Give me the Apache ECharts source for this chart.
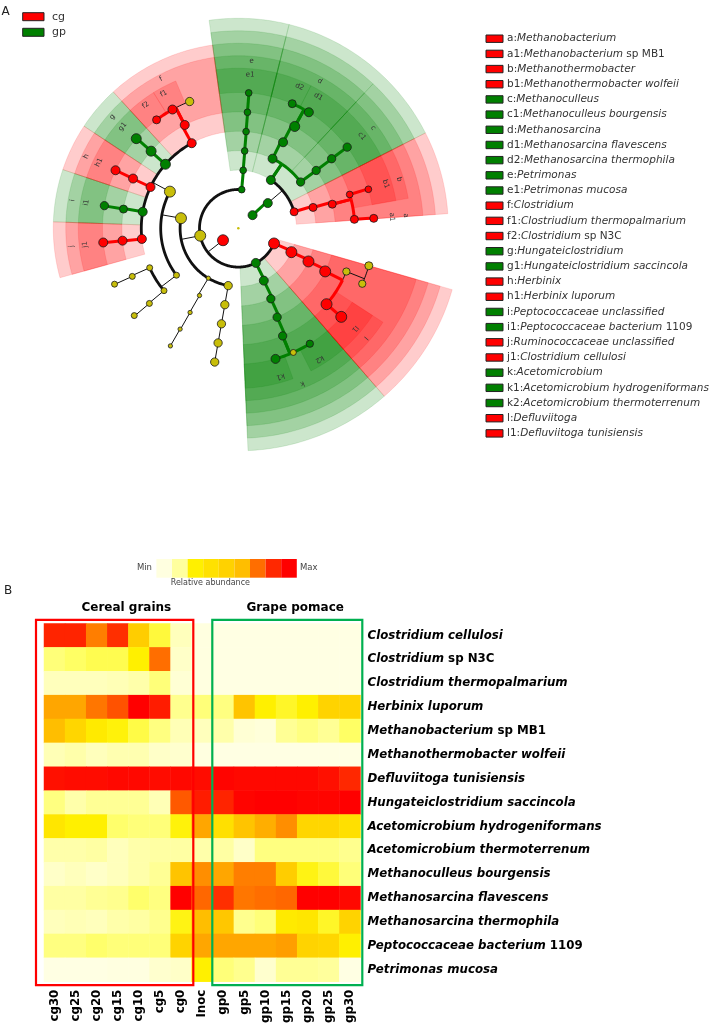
<!DOCTYPE html>
<html><head><meta charset="utf-8">
<script src="https://cdn.jsdelivr.net/npm/echarts/dist/echarts.min.js"></script>
<style>html,body{margin:0;padding:0;background:#fff}#c{width:714px;height:1026px}</style>
</head><body><div id="c"></div>
<script>
// ================= DATA =================
// Cladogram nodes: [id, parent, taxonomic level, angle (deg), group, abundance class]
const kingdomNodes = [
  ['root', null, 0, 0, 'ns', 2.5],
  ['Archaea', 'root', 1, 42.7, 'gp', 9],
  ['Bacteria', 'root', 1, 218, 'cg', 11]
];
const archaeaNodes = [
  ['Euryarchaeota', 'Archaea', 2, 40.5, 'gp', 9],
  ['Methanomicrobia', 'Euryarchaeota', 3, 56, 'gp', 9],
  ['Methanosarcinales', 'Methanomicrobia', 4, 63.8, 'gp', 9],
  ['Methanosarcinaceae', 'Methanosarcinales', 5, 62.5, 'gp', 9],
  ['d', 'Methanosarcinaceae', 6, 61, 'gp', 10],
  ['d1', 'd', 7, 58.7, 'gp', 9],
  ['d2', 'd', 7, 66.6, 'gp', 8],
  ['Methanomicrobiales', 'Methanomicrobia', 4, 36.6, 'gp', 8.3],
  ['Methanomicrobiaceae', 'Methanomicrobiales', 5, 36.6, 'gp', 8.3],
  ['c', 'Methanomicrobiaceae', 6, 36.7, 'gp', 8.3],
  ['c1', 'c', 7, 36.7, 'gp', 8.3],
  ['Methanobacteria', 'Euryarchaeota', 3, 16.5, 'cg', 8],
  ['Methanobacteriales', 'Methanobacteria', 4, 15.6, 'cg', 8],
  ['Methanobacteriaceae', 'Methanobacteriales', 5, 14.4, 'cg', 8],
  ['b', 'Methanobacteriaceae', 6, 16.9, 'cg', 6.7],
  ['b1', 'b', 7, 16.7, 'cg', 6.7],
  ['a', 'Methanobacteriaceae', 6, 4.4, 'cg', 8],
  ['a1', 'a', 7, 4.2, 'cg', 8]
];
const bacteroidetesNodes = [
  ['Bacteroidetes', 'Bacteria', 2, 85, 'gp', 6.7],
  ['Bacteroidia', 'Bacteroidetes', 3, 85.2, 'gp', 6.7],
  ['Bacteroidales', 'Bacteroidia', 4, 85.3, 'gp', 6.7],
  ['Porphyromonadaceae', 'Bacteroidales', 5, 85.4, 'gp', 6.7],
  ['e', 'Porphyromonadaceae', 6, 85.5, 'gp', 6.7],
  ['e1', 'e', 7, 85.6, 'gp', 6.7]
];
const firmicutesNodes = [
  ['Firmicutes', 'Bacteria', 2, 191, 'ns', 11],
  ['Clostridia', 'Firmicutes', 3, 170, 'ns', 11],
  ['Clostridiales', 'Clostridia', 4, 151.8, 'ns', 11],
  ['Clostridiaceae', 'Clostridiales', 5, 118.7, 'cg', 9],
  ['f', 'Clostridiaceae', 6, 117.4, 'cg', 9],
  ['f_sp', 'f', 7, 111, 'ns', 8.3],
  ['f1', 'f', 7, 119, 'cg', 9],
  ['f2', 'f', 7, 127, 'cg', 8],
  ['Hungateiclostridiaceae', 'Clostridiales', 5, 138.7, 'gp', 10],
  ['g', 'Hungateiclostridiaceae', 6, 138.5, 'gp', 10],
  ['g1', 'g', 7, 138.7, 'gp', 10],
  ['Lachnospiraceae', 'Clostridiales', 5, 154.8, 'cg', 9],
  ['h', 'Lachnospiraceae', 6, 154.7, 'cg', 9],
  ['h1', 'h', 7, 154.7, 'cg', 9],
  ['Peptococcaceae', 'Clostridiales', 5, 170.2, 'gp', 9],
  ['i', 'Peptococcaceae', 6, 170.5, 'gp', 8],
  ['i1', 'i', 7, 170.4, 'gp', 8.3],
  ['Ruminococcaceae', 'Clostridiales', 5, 186.3, 'cg', 9],
  ['j', 'Ruminococcaceae', 6, 186.1, 'cg', 9],
  ['j1', 'j', 7, 186, 'cg', 9],
  ['order_2', 'Clostridia', 4, 217.2, 'ns', 6],
  ['fam_2a', 'order_2', 5, 204, 'ns', 6],
  ['gen_2a', 'fam_2a', 6, 204.4, 'ns', 6],
  ['sp_2a', 'gen_2a', 7, 204.3, 'ns', 6],
  ['fam_2b', 'order_2', 5, 220, 'ns', 6],
  ['gen_2b', 'fam_2b', 6, 220.2, 'ns', 6],
  ['sp_2b', 'gen_2b', 7, 220, 'ns', 6],
  ['class_3', 'Firmicutes', 3, 239, 'ns', 4.3],
  ['order_3', 'class_3', 4, 240, 'ns', 4.3],
  ['fam_3', 'order_3', 5, 240.2, 'ns', 4.3],
  ['gen_3', 'fam_3', 6, 240, 'ns', 4.3],
  ['sp_3', 'gen_3', 7, 240, 'ns', 4.3],
  ['class_4', 'Firmicutes', 3, 260, 'ns', 8.3],
  ['order_4', 'class_4', 4, 260, 'ns', 8.3],
  ['fam_4', 'order_4', 5, 260, 'ns', 8.3],
  ['gen_4', 'fam_4', 6, 260, 'ns', 8.3],
  ['sp_4', 'gen_4', 7, 260, 'ns', 8.3]
];
const synergistetesNodes = [
  ['Synergistetes', 'Bacteria', 2, 296.8, 'gp', 9],
  ['Synergistia', 'Synergistetes', 3, 296, 'gp', 9],
  ['Synergistales', 'Synergistia', 4, 294.8, 'gp', 8.3],
  ['Synergistaceae', 'Synergistales', 5, 293.6, 'gp', 8.3],
  ['k', 'Synergistaceae', 6, 292.4, 'gp', 8.3],
  ['k1', 'k', 7, 285.9, 'gp', 9],
  ['k_sp', 'k', 7, 293.9, 'ns', 6],
  ['k2', 'k', 7, 301.8, 'gp', 7.3]
];
const thermotogaeNodes = [
  ['Thermotogae', 'Bacteria', 2, 337, 'cg', 11],
  ['Thermotogae_c', 'Thermotogae', 3, 335.8, 'cg', 11],
  ['Petrotogales', 'Thermotogae_c', 4, 334.7, 'cg', 11],
  ['Petrotogaceae', 'Petrotogales', 5, 333.6, 'cg', 11],
  ['l', 'Petrotogaceae', 6, 319.3, 'cg', 11],
  ['l1', 'l', 7, 319.3, 'cg', 11],
  ['l_gen2', 'Petrotogaceae', 6, 338.2, 'ns', 7.3],
  ['l_sp2', 'l_gen2', 7, 335.9, 'ns', 7.3],
  ['l_sp3', 'l_gen2', 7, 344, 'ns', 8]
];
// Highlighted biomarker clades: [clade id, start angle, end angle]
const gpSectors = [
  ['Methanomicrobia', 27, 76], ['Methanosarcinales', 47, 76], ['Methanosarcinaceae', 47, 76],
  ['d', 47, 76], ['d1', 47, 63], ['d2', 63, 76],
  ['Methanomicrobiales', 27, 47], ['Methanomicrobiaceae', 27, 47], ['c', 27, 47], ['c1', 27, 47],
  ['Bacteroidia', 76, 98], ['Bacteroidales', 76, 98], ['Porphyromonadaceae', 76, 98], ['e', 76, 98], ['e1', 76, 98],
  ['Hungateiclostridiaceae', 132.5, 146.5], ['g', 132.5, 146.5], ['g1', 132.5, 146.5],
  ['Peptococcaceae', 161.5, 178], ['i', 161.5, 178], ['i1', 161.5, 178],
  ['Synergistetes', 272.5, 311], ['Synergistia', 272.5, 311], ['Synergistales', 272.5, 311],
  ['Synergistaceae', 272.5, 311], ['k', 272.5, 311], ['k1', 272.5, 290], ['k2', 297, 311]
];
const cgSectors = [
  ['Methanobacteria', 4, 27], ['Methanobacteriales', 4, 27], ['Methanobacteriaceae', 4, 27], ['b', 10, 27], ['b1', 10, 27],
  ['Clostridiaceae', 98, 132.5], ['f', 98, 132.5], ['f1', 113, 122], ['f2', 122, 132.5],
  ['Lachnospiraceae', 146.5, 161.5], ['h', 146.5, 161.5], ['h1', 146.5, 161.5],
  ['Ruminococcaceae', 178, 195.5], ['j', 178, 195.5], ['j1', 178, 195.5],
  ['Thermotogae', 311, 344], ['Thermotogae_c', 311, 344], ['Petrotogales', 311, 344], ['Petrotogaceae', 311, 344],
  ['l', 311, 327], ['l1', 311, 327]
];
// Clade legend: [letter, italic name, upright suffix]
const cladeLegend = [
  ['a', 'Methanobacterium', ''], ['a1', 'Methanobacterium', 'sp MB1'],
  ['b', 'Methanothermobacter', ''], ['b1', 'Methanothermobacter wolfeii', ''],
  ['c', 'Methanoculleus', ''], ['c1', 'Methanoculleus bourgensis', ''],
  ['d', 'Methanosarcina', ''], ['d1', 'Methanosarcina flavescens', ''], ['d2', 'Methanosarcina thermophila', ''],
  ['e', 'Petrimonas', ''], ['e1', 'Petrimonas mucosa', ''],
  ['f', 'Clostridium', ''], ['f1', 'Clostriudium thermopalmarium', ''], ['f2', 'Clostridium', 'sp N3C'],
  ['g', 'Hungateiclostridium', ''], ['g1', 'Hungateiclostridium saccincola', ''],
  ['h', 'Herbinix', ''], ['h1', 'Herbinix luporum', ''],
  ['i', 'Peptococcaceae unclassified', ''], ['i1', 'Peptococcaceae bacterium', '1109'],
  ['j', 'Ruminococcaceae unclassified', ''], ['j1', 'Clostridium cellulosi', ''],
  ['k', 'Acetomicrobium', ''], ['k1', 'Acetomicrobium hydrogeniformans', ''], ['k2', 'Acetomicrobium thermoterrenum', ''],
  ['l', 'Defluviitoga', ''], ['l1', 'Defluviitoga tunisiensis', '']
];
const groupNames = ['cg', 'gp'];

// Heatmap
const sampleCols = ['cg30','cg25','cg20','cg15','cg10','cg5','cg0','Inoc','gp0','gp5','gp10','gp15','gp20','gp25','gp30'];
const taxaItalic = ['Clostridium cellulosi','Clostridium','Clostridium thermopalmarium','Herbinix luporum',
  'Methanobacterium','Methanothermobacter wolfeii','Defluviitoga tunisiensis','Hungateiclostridium saccincola',
  'Acetomicrobium hydrogeniformans','Acetomicrobium thermoterrenum','Methanoculleus bourgensis',
  'Methanosarcina flavescens','Methanosarcina thermophila','Peptococcaceae bacterium','Petrimonas mucosa'];
const taxaSuffix = ['','sp N3C','','','sp MB1','','','','','','','','','1109',''];
// relative abundance on the 0 (Min) .. 8 (Max) colour scale, one row per taxon
const abundanceRows = [
  [7.1,7.1,5.8,6.9,4.5,2.4,0.7,0.1,0.05,0.05,0.05,0.05,0.05,0.05,0.05],
  [1.7,2.0,2.2,2.2,3.0,6.0,0.5,0.1,0.05,0.05,0.05,0.05,0.05,0.05,0.05],
  [0.7,0.7,0.7,0.8,1.0,1.7,0.3,0.1,0.05,0.05,0.05,0.05,0.05,0.05,0.05],
  [5.3,5.3,5.9,6.4,8.0,7.3,1.4,1.7,1.6,4.8,3.0,2.6,3.0,4.3,4.3],
  [5.0,4.2,3.3,2.9,2.3,1.6,0.8,0.7,1.0,0.3,0.2,1.3,1.6,1.3,2.0],
  [0.8,1.0,0.7,0.9,0.9,0.5,0.4,0.1,0.05,0.05,0.05,0.05,0.05,0.05,0.05],
  [7.6,7.7,7.7,7.8,7.8,7.7,7.8,7.7,7.9,7.8,7.8,7.8,7.8,7.6,7.0],
  [1.6,1.0,1.3,1.3,1.3,0.8,6.3,7.3,7.1,7.9,8.0,8.0,7.9,7.9,8.0],
  [3.5,3.0,3.0,1.9,1.7,1.7,2.9,5.3,3.8,4.8,5.2,5.6,4.2,4.2,3.8],
  [1.0,1.0,1.1,0.7,1.0,1.1,1.1,1.0,1.1,0.5,1.6,1.6,1.6,1.6,1.4],
  [0.5,0.7,0.5,0.7,1.0,1.3,4.8,5.6,5.3,5.8,5.8,4.5,2.8,2.4,1.7],
  [1.1,1.1,1.3,1.4,1.9,1.6,8.0,6.1,6.9,5.9,6.0,6.1,8.0,8.0,7.8],
  [0.7,0.8,0.7,1.0,1.1,1.4,2.8,5.0,4.7,1.4,1.7,3.3,3.5,2.6,4.3],
  [1.6,1.6,1.9,1.7,1.7,1.7,4.3,5.3,5.3,5.3,5.3,5.4,4.3,4.2,3.0],
  [0.05,0.05,0.05,0.1,0.1,0.4,0.5,3.0,1.7,1.4,0.4,1.3,1.3,1.2,0.05]
];
// sample groups framed in the heatmap: [first column, last column, title, group]
const sampleGroups = [[0, 6, 'Cereal grains', 'cg'], [8, 14, 'Grape pomace', 'gp']];
const scaleColors = ['#FFFFE6','#FFFFAA','#FFFF64','#FFF000','#FFDC00','#FFBE00','#FF6E00','#FF2800','#FF0000'];
const colorbarColors = ['#FFFFE0','#FFFF9E','#FFF000','#FFE100','#FFD200','#FFBE00','#FF6E00','#FF2800','#FF0000'];

// ================= STYLE / LAYOUT =================
const FL = "'DejaVu Sans', Verdana, sans-serif";
const nodeColor = { cg: '#FF0000', gp: '#008000', ns: '#C8BE0A' };
const sectorFill = { cg: 'rgba(255,0,0,0.2)', gp: 'rgba(0,128,0,0.2)' };
const frameColor = { cg: '#FF0000', gp: '#00B050' };
const framePad = { cg: [8, 1.6], gp: [0.5, 1.8] };
const outerLevel = L => 8.25 + (7 - L) * 0.644;   // outer edge of a clade's shaded sector
const labelLevel = L => (L >= 7 ? 7.94 : 8.66);

// ================= BUILD =================
const nodes = [].concat(kingdomNodes, archaeaNodes, bacteroidetesNodes, firmicutesNodes, synergistetesNodes, thermotogaeNodes)
  .map(t => ({ id: t[0], parent: t[1], L: t[2], a: t[3], g: t[4], s: t[5] }));
const byId = {}; nodes.forEach(n => { byId[n.id] = n; n.children = []; });
nodes.forEach(n => { if (n.parent) byId[n.parent].children.push(n); });

const blackEdges = [], colorEdges = [];
nodes.forEach(p => {
  if (p.id === 'root' || !p.children.length) return;
  const ch = p.children;
  const colored = ch.filter(c => c.g !== 'ns');
  const same = p.g !== 'ns' && colored.length > 0 && colored.every(c => c.g === p.g);
  const cl = p.L + 1;
  if (same) {
    ch.forEach(c => {
      if (c.g === p.g) {
        colorEdges.push({ kind: 'radial', L0: p.L, L1: cl, a: p.a, color: nodeColor[p.g], w: 3 });
        colorEdges.push({ kind: 'arc', L: cl, a0: p.a, a1: c.a, color: nodeColor[p.g], w: 3 });
      } else {
        blackEdges.push({ kind: 'radial', L0: p.L, L1: cl, a: p.a, color: '#111', w: 1 });
        blackEdges.push({ kind: 'arc', L: cl, a0: p.a, a1: c.a, color: '#111', w: 1 });
      }
    });
  } else {
    blackEdges.push({ kind: 'radial', L0: p.L, L1: cl, a: p.a, color: '#111', w: 1 });
    const angs = ch.map(c => c.a).concat([p.a]);
    const thick = ch.length > 1 && cl <= 6;
    blackEdges.push({ kind: 'arc', L: cl, a0: Math.min.apply(null, angs), a1: Math.max.apply(null, angs), color: '#111', w: thick ? 2.8 : 1 });
  }
});
const edgeList = blackEdges.concat(colorEdges);

const sectorList = [];
[['gp', gpSectors], ['cg', cgSectors]].forEach(([g, arr]) => arr.forEach(s => {
  sectorList.push({ L: byId[s[0]].L, a0: s[1], a1: s[2], g: g });
}));

const labelList = cladeLegend.map(c => { const n = byId[c[0]]; return { t: c[0], r: labelLevel(n.L), a: n.a }; });

function arcPoints(api, level, a0, a1) {
  const n = Math.max(2, Math.ceil(Math.abs(a1 - a0) / 1) + 1);
  const pts = [];
  for (let k = 0; k < n; k++) pts.push(api.coord([level, a0 + (a1 - a0) * k / (n - 1)]));
  return pts;
}

const heatData = [];
abundanceRows.forEach((row, r) => row.forEach((v, c) => heatData.push([c, r, v])));

// ----- graphic (legends, colour key, panel letters)
const graphics = [];
graphics.push({ type: 'text', left: 1.5, top: 6, style: { text: 'A', fontSize: 12, fill: '#222', fontFamily: FL } });
graphics.push({ type: 'text', left: 4, top: 585, style: { text: 'B', fontSize: 12, fill: '#222', fontFamily: FL } });
groupNames.forEach((g, i) => {
  const y = 12.7 + i * 15.6;
  graphics.push({ type: 'rect', shape: { x: 22.7, y: y, width: 21.3, height: 8 }, style: { fill: nodeColor[g], stroke: '#222', lineWidth: 1 } });
  graphics.push({ type: 'text', x: 52, y: y + 4, style: { text: g, fontSize: 11, fill: '#333', fontFamily: FL, verticalAlign: 'middle' } });
});
const legRich = {
  p: { fontSize: 10.5, fontFamily: FL, fill: '#333' },
  i: { fontSize: 10.5, fontFamily: FL, fontStyle: 'italic', fill: '#333' },
  n: { fontSize: 10.5, fontFamily: FL, fill: '#333' }
};
cladeLegend.forEach((c, i) => {
  const yc = 38.7 + i * 15.18;
  const g = byId[c[0]].g;
  graphics.push({ type: 'rect', shape: { x: 486, y: yc - 3.7, width: 17, height: 7.4 }, style: { fill: nodeColor[g], stroke: '#222', lineWidth: 1 } });
  graphics.push({ type: 'text', x: 507, y: yc, style: {
    text: '{p|' + c[0] + ':}{i|' + c[1] + '}' + (c[2] ? '{n| ' + c[2] + '}' : ''),
    rich: legRich, verticalAlign: 'middle', align: 'left' } });
});
colorbarColors.forEach((col, i) => {
  graphics.push({ type: 'rect', shape: { x: 156.4 + i * 15.6, y: 559, width: 15.6, height: 18.7 }, style: { fill: col } });
});
graphics.push({ type: 'text', x: 152, y: 568, style: { text: 'Min', fontSize: 8.5, fill: '#444', fontFamily: FL, align: 'right', verticalAlign: 'middle' } });
graphics.push({ type: 'text', x: 300, y: 568, style: { text: 'Max', fontSize: 8.5, fill: '#444', fontFamily: FL, align: 'left', verticalAlign: 'middle' } });
graphics.push({ type: 'text', x: 250, y: 582.5, style: { text: 'Relative abundance', fontSize: 8, fill: '#444', fontFamily: FL, align: 'right', verticalAlign: 'middle' } });

const boldFont = { fontWeight: 'bold', fontSize: 11.8, fontFamily: FL, color: '#000' };

const option = {
  animation: false,
  backgroundColor: '#fff',
  polar: { center: [238.3, 228.3], radius: 232.8 },
  angleAxis: { type: 'value', min: 0, max: 360, startAngle: 0, clockwise: false, show: false },
  radiusAxis: { type: 'value', min: 0, max: 12, show: false },
  grid: { left: 44, top: 623.5, width: 316.5, height: 361.5 },
  xAxis: { type: 'category', data: sampleCols, axisLine: { show: false }, axisTick: { show: false }, splitLine: { show: false },
    axisLabel: Object.assign({ rotate: 90, interval: 0, margin: 8 }, boldFont) },
  yAxis: { type: 'category', data: taxaItalic, inverse: true, position: 'right', axisLine: { show: false }, axisTick: { show: false }, splitLine: { show: false },
    axisLabel: { interval: 0, margin: 7,
      formatter: (v, idx) => '{i|' + taxaItalic[idx] + '}' + (taxaSuffix[idx] ? '{n| ' + taxaSuffix[idx] + '}' : ''),
      rich: { i: Object.assign({ fontStyle: 'italic' }, boldFont), n: Object.assign({}, boldFont) } } },
  visualMap: { type: 'continuous', min: 0, max: 8, show: false, seriesIndex: 4, inRange: { color: scaleColors } },
  graphic: graphics,
  series: [
    { type: 'custom', coordinateSystem: 'polar', silent: true, z: 1,
      data: sectorList.map(s => [s.L, s.a0]),
      renderItem: (params, api) => {
        const s = sectorList[params.dataIndex];
        const outer = arcPoints(api, outerLevel(s.L), s.a0, s.a1);
        const inner = arcPoints(api, s.L, s.a1, s.a0);
        return { type: 'polygon', shape: { points: outer.concat(inner) },
          style: { fill: sectorFill[s.g], stroke: sectorFill[s.g], lineWidth: 0.6 } };
      } },
    { type: 'custom', coordinateSystem: 'polar', silent: true, z: 2,
      data: edgeList.map(e => [e.L || e.L1, e.a0 || e.a || 0]),
      renderItem: (params, api) => {
        const e = edgeList[params.dataIndex];
        const pts = e.kind === 'radial' ? [api.coord([e.L0, e.a]), api.coord([e.L1, e.a])] : arcPoints(api, e.L, e.a0, e.a1);
        return { type: 'polyline', shape: { points: pts }, style: { stroke: e.color, lineWidth: e.w, fill: null, lineJoin: 'round' } };
      } },
    { type: 'scatter', coordinateSystem: 'polar', silent: true, z: 3,
      data: nodes.map(n => ({ value: [n.L, n.a, n.s],
        itemStyle: { color: nodeColor[n.g], borderColor: '#1a1a1a', borderWidth: n.id === 'root' ? 0 : 0.8, opacity: 1 } })),
      symbolSize: v => v[2] },
    { type: 'custom', coordinateSystem: 'polar', silent: true, z: 4,
      data: labelList.map(l => [l.r, l.a]),
      renderItem: (params, api) => {
        const l = labelList[params.dataIndex];
        const p = api.coord([l.r, l.a]);
        return { type: 'text', x: p[0], y: p[1], rotation: (l.a - 90) * Math.PI / 180,
          style: { text: l.t, fontSize: 7, fill: '#333', fontFamily: FL, align: 'center', verticalAlign: 'middle' } };
      } },
    { type: 'heatmap', data: heatData, itemStyle: { borderWidth: 0 }, emphasis: { disabled: true }, silent: true, progressive: 0 },
    { type: 'custom', coordinateSystem: 'cartesian2d', silent: true, z: 5, clip: false,
      data: sampleGroups.map(g => [g[0], 0, g[1]]), encode: { x: 0, y: 1 },
      renderItem: (params, api) => {
        const g = sampleGroups[params.dataIndex];
        const sz = api.size([1, 1]);
        const p0 = api.coord([g[0], 0]);
        const p1 = api.coord([g[1], taxaItalic.length - 1]);
        const pad = framePad[g[3]];
        const x0 = p0[0] - sz[0] / 2 - pad[0], x1 = p1[0] + sz[0] / 2 + pad[1];
        const y0 = p0[1] - sz[1] / 2 - 3.6, y1 = p1[1] + sz[1] / 2 + 3.4;
        const cx = (p0[0] + p1[0]) / 2 + 8.5;
        return { type: 'group', children: [
          { type: 'rect', shape: { x: x0, y: y0, width: x1 - x0, height: y1 - y0 }, style: { fill: 'none', stroke: frameColor[g[3]], lineWidth: 2.2 } },
          { type: 'text', x: cx, y: y0 - 12, style: { text: g[2], fontSize: 12, fontWeight: 'bold', fontFamily: FL, fill: '#000', align: 'center', verticalAlign: 'middle' } }
        ] };
      } }
  ]
};
const chart = echarts.init(document.getElementById('c'), null, { renderer: 'canvas' });
chart.setOption(option);
</script></body></html>
